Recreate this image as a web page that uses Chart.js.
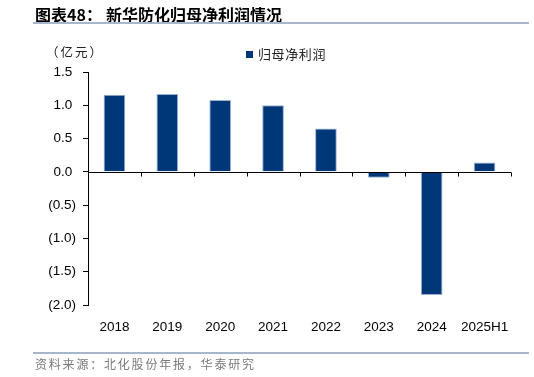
<!DOCTYPE html>
<html>
<head>
<meta charset="utf-8">
<script src="https://cdn.jsdelivr.net/npm/chart.js@4/dist/chart.umd.min.js"></script>
<style>
  html, body { margin: 0; padding: 0; background: #fff; }
  #wrap { position: relative; width: 534px; height: 377px; overflow: hidden; }
  canvas { position: absolute; left: 0; top: 0; }
  .t { position: absolute; white-space: nowrap; font-family: "Noto Sans CJK SC", sans-serif; line-height: 1; }
  .rule { position: absolute; left: 33px; width: 496px; height: 0; border-top: 2px solid #a7b7cb; }
</style>
</head>
<body>
<div id="wrap">
  <canvas id="c" width="534" height="377"></canvas>
  <div class="t" style="left:35px; top:6px; font-size:16px; font-weight:bold; color:#000;">图表48：<span style="margin-left:4px;">新华防化归母净利润情况</span></div>
  <div class="rule" style="top:22px;"></div>
  <div class="t" style="left:46px; top:46px; font-size:12.5px; letter-spacing:2px; color:#222;">（亿元）</div>
  <div style="position:absolute; left:246px; top:51px; width:7px; height:7px; background:#003778;"></div>
  <div class="t" style="left:258px; top:47px; font-size:13px; letter-spacing:0.6px; color:#222;">归母净利润</div>
  <div class="rule" style="top:352px;"></div>
  <div class="t" style="left:35px; top:358px; font-size:12px; letter-spacing:1.8px; color:#7a7a7a;">资料来源：北化股份年报，华泰研究</div>
</div>
<script>
const categories = ["2018", "2019", "2020", "2021", "2022", "2023", "2024", "2025H1"];
const netProfit = [1.16, 1.17, 1.08, 1.00, 0.65, -0.09, -1.85, 0.14];
const seriesName = "归母净利润";
const yMin = -2.0, yMax = 1.5, yStep = 0.5;

const zeroLinePlugin = {
  id: 'zeroLine',
  afterDatasetsDraw(chart) {
    const ctx = chart.ctx, area = chart.chartArea;
    const y = Math.round(chart.scales.y.getPixelForValue(0)) + 0.5;
    const n = categories.length;
    ctx.save();
    ctx.strokeStyle = '#000';
    ctx.lineWidth = 1;
    ctx.beginPath();
    ctx.moveTo(area.left, y);
    ctx.lineTo(area.right, y);
    for (let i = 1; i <= n; i++) {
      const x = Math.round(area.left + i * (area.right - area.left) / n) + 0.5;
      ctx.moveTo(x, y);
      ctx.lineTo(x, y + 4);
    }
    ctx.stroke();
    ctx.restore();
  }
};

new Chart(document.getElementById('c'), {
  type: 'bar',
  data: {
    labels: categories,
    datasets: [{
      label: seriesName,
      data: netProfit,
      backgroundColor: '#003778',
      borderColor: '#9bb2d2',
      borderWidth: 1,
      barPercentage: 0.41,
      categoryPercentage: 1.0
    }]
  },
  options: {
    responsive: false,
    animation: false,
    layout: { padding: { left: 0, top: 72, right: 23, bottom: 32 } },
    plugins: { legend: { display: false }, tooltip: { enabled: false } },
    scales: {
      x: {
        grid: { display: false },
        border: { display: false },
        ticks: { color: '#000', font: { family: 'Liberation Sans, Arial', size: 13.5 }, padding: 6, maxRotation: 0 },
        afterFit(s) { s.height = 40; }
      },
      y: {
        min: yMin, max: yMax,
        grid: { drawOnChartArea: false, drawTicks: true, tickLength: 5, color: '#000' },
        border: { display: true, color: '#000', width: 1 },
        ticks: {
          stepSize: yStep,
          color: '#000',
          padding: 7,
          font: { family: 'Liberation Sans, Arial', size: 13.5 },
          callback: (v) => v < 0 ? '(' + Math.abs(v).toFixed(1) + ')' : v.toFixed(1) + ' '
        },
        afterFit(s) { s.width = 88; }
      }
    }
  },
  plugins: [zeroLinePlugin]
});
</script>
</body>
</html>
